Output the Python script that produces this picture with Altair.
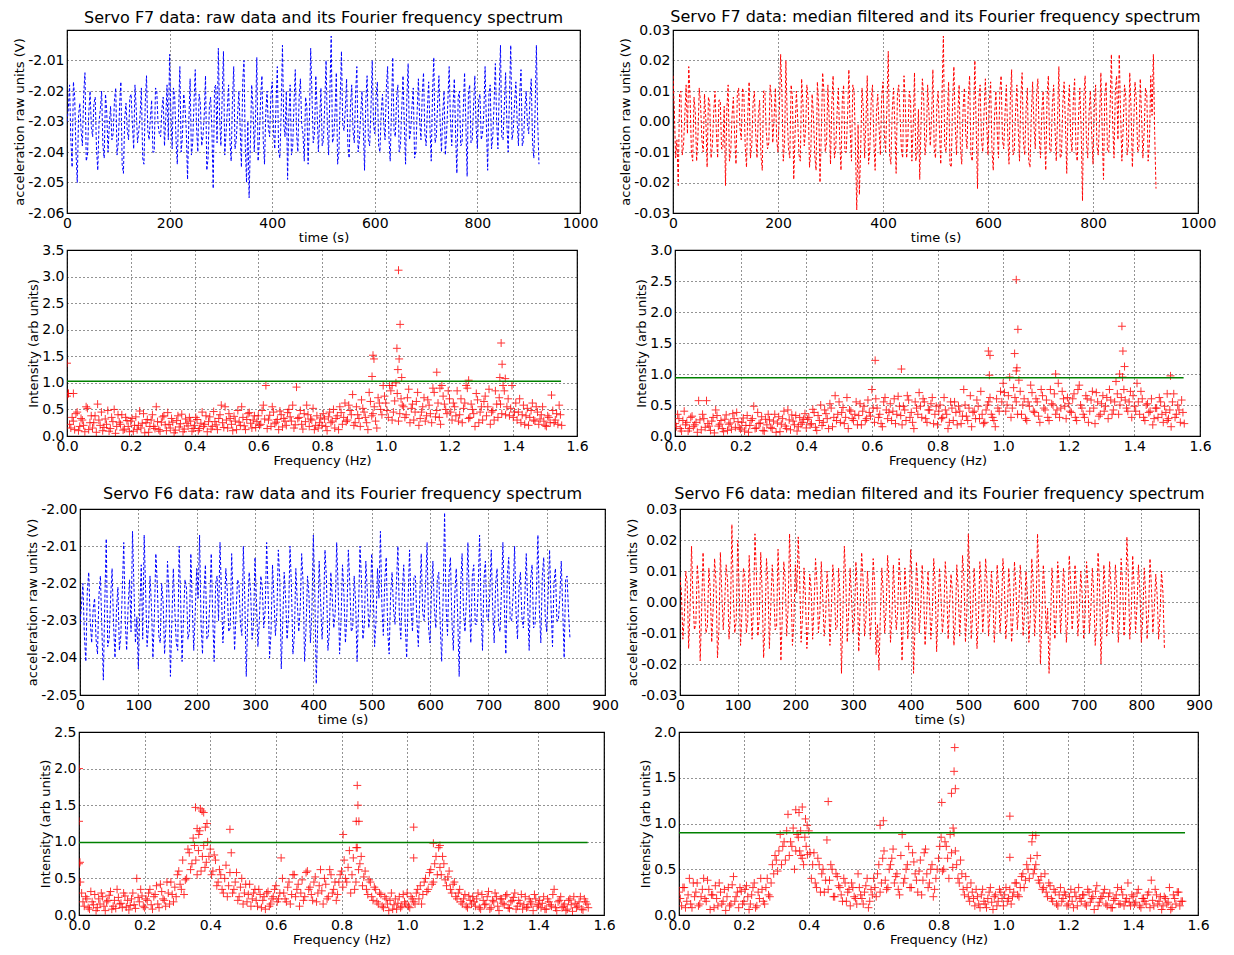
import altair as alt
import pandas as pd

FONT = "DejaVu Sans"

# ---------------- time series: samples on the 5 s grid (a) and the 2.5 s offsets (b) ----------------
ts_step = 5
f7_raw_a = [
    -2.030, -2.018, -2.045, -2.022, -2.050, -2.024, -2.038, -2.014, -2.041, -2.020,
    -2.035, -2.022, -2.046, -2.026, -2.038, -2.021, -2.040, -2.025, -2.034, -2.019,
    -2.037, -2.017, -2.047, -2.024, -2.036, -2.021, -2.039, -2.026, -2.033, -2.019,
    -2.044, -2.015, -2.036, -2.023, -2.040, -2.020, -2.034, -2.026, -2.038, -2.018,
    -2.008, -2.039, -2.022, -2.044, -2.012, -2.035, -2.025, -2.049, -2.016, -2.037,
    -2.013, -2.040, -2.024, -2.035, -2.015, -2.042, -2.022, -2.052, -2.018, -2.006,
    -2.038, -2.007, -2.034, -2.018, -2.043, -2.012, -2.036, -2.020, -2.045, -2.010,
    -2.050, -2.055, -2.018, -2.040, -2.009, -2.036, -2.015, -2.044, -2.020, -2.035,
    -2.017, -2.039, -2.012, -2.042, -2.005, -2.035, -2.049, -2.018, -2.038, -2.013,
    -2.040, -2.016, -2.034, -2.022, -2.044, -2.006, -2.037, -2.015, -2.040, -2.019,
    -2.036, -2.010, -2.041, -2.002, -2.035, -2.014, -2.040, -2.007, -2.033, -2.016,
    -2.042, -2.018, -2.037, -2.012, -2.036, -2.020, -2.046, -2.015, -2.038, -2.010,
    -2.034, -2.017, -2.040, -2.021, -2.036, -2.012, -2.043, -2.009, -2.035, -2.018,
    -2.038, -2.015, -2.044, -2.011, -2.033, -2.019, -2.040, -2.016, -2.036, -2.014,
    -2.038, -2.017, -2.043, -2.009, -2.035, -2.015, -2.040, -2.020, -2.034, -2.012,
    -2.038, -2.016, -2.047, -2.020, -2.037, -2.014, -2.048, -2.018, -2.036, -2.015,
    -2.039, -2.021, -2.034, -2.012, -2.046, -2.018, -2.035, -2.011, -2.039, -2.005,
    -2.036, -2.014, -2.040, -2.005, -2.033, -2.017, -2.038, -2.013, -2.036, -2.020,
    -2.034, -2.016, -2.042, -2.005, -2.044,
]
f7_raw_b = [
    -2.026, -2.036, -2.017, -2.040, -2.028, -2.033, -2.021, -2.043, -2.027, -2.032,
    -2.024, -2.039, -2.030, -2.020, -2.042, -2.027, -2.031, -2.036, -2.023, -2.041,
    -2.025, -2.044, -2.029, -2.033, -2.022, -2.031, -2.018, -2.037, -2.028, -2.042,
    -2.024, -2.033, -2.029, -2.040, -2.019, -2.031, -2.035, -2.022, -2.029, -2.036,
    -2.028, -2.019, -2.036, -2.027, -2.040, -2.021, -2.033, -2.030, -2.041, -2.024,
    -2.032, -2.021, -2.038, -2.028, -2.046, -2.025, -2.033, -2.019, -2.037, -2.029,
    -2.022, -2.041, -2.026, -2.036, -2.023, -2.039, -2.028, -2.032, -2.017, -2.038,
    -2.030, -2.037, -2.025, -2.029, -2.043, -2.022, -2.036, -2.027, -2.032, -2.021,
    -2.033, -2.024, -2.040, -2.027, -2.031, -2.020, -2.028, -2.041, -2.024, -2.034,
    -2.022, -2.031, -2.043, -2.025, -2.030, -2.021, -2.034, -2.026, -2.029, -2.038,
    -2.024, -2.032, -2.020, -2.037, -2.027, -2.044, -2.023, -2.031, -2.026, -2.038,
    -2.025, -2.033, -2.021, -2.040, -2.028, -2.032, -2.023, -2.036, -2.026, -2.031,
    -2.022, -2.038, -2.027, -2.031, -2.019, -2.035, -2.026, -2.033, -2.022, -2.040,
    -2.026, -2.031, -2.022, -2.036, -2.025, -2.042, -2.027, -2.030, -2.021, -2.034,
    -2.026, -2.032, -2.021, -2.037, -2.024, -2.031, -2.027, -2.041, -2.023, -2.030,
    -2.025, -2.034, -2.022, -2.038, -2.026, -2.031, -2.021, -2.037, -2.025, -2.032,
    -2.023, -2.036, -2.027, -2.031, -2.021, -2.039, -2.024, -2.030, -2.020, -2.035,
    -2.025, -2.031, -2.022, -2.036, -2.024, -2.030, -2.021, -2.038, -2.026, -2.031,
    -2.022, -2.037, -2.026, -2.030,
]
f7_med_a = [
    0.015, -0.012, -0.021, 0.010, -0.008, 0.012, 0.018, -0.010, 0.008, -0.013,
    0.011, -0.006, 0.009, -0.015, 0.006, -0.008, 0.010, -0.012, 0.007, -0.009,
    -0.021, 0.012, -0.010, 0.008, -0.014, 0.011, -0.006, 0.009, -0.015, 0.013,
    -0.008, 0.010, -0.012, 0.007, -0.016, 0.010, -0.009, 0.012, -0.007, 0.011,
    -0.010, 0.022, -0.013, 0.020, -0.009, 0.012, -0.019, 0.010, -0.011, 0.014,
    -0.008, 0.012, -0.015, 0.009, -0.011, 0.013, -0.020, 0.016, -0.010, 0.012,
    -0.014, 0.015, -0.009, 0.011, -0.016, 0.012, -0.010, 0.017, -0.013, 0.010,
    -0.029, -0.024, 0.011, -0.012, 0.015, -0.009, 0.012, -0.016, 0.009, -0.011,
    0.013, -0.010, 0.023, -0.014, 0.011, -0.017, 0.012, -0.009, 0.015, -0.012,
    0.010, -0.013, 0.016, -0.010, -0.019, 0.014, -0.011, 0.012, -0.008, 0.017,
    -0.012, 0.010, -0.014, 0.028, -0.010, 0.013, -0.015, 0.018, -0.011, 0.012,
    -0.014, 0.011, -0.009, 0.015, -0.013, 0.020, -0.022, 0.012, -0.010, 0.014,
    -0.011, 0.013, -0.016, 0.010, -0.012, 0.015, -0.009, 0.012, -0.014, 0.017,
    -0.010, 0.012, -0.013, 0.016, -0.011, 0.011, -0.015, 0.013, -0.009, 0.014,
    -0.012, 0.010, -0.016, 0.015, -0.010, 0.012, -0.013, 0.018, -0.011, 0.013,
    -0.017, 0.012, -0.010, 0.014, -0.013, 0.011, -0.026, 0.015, -0.012, 0.010,
    -0.014, 0.012, -0.011, 0.016, -0.019, 0.013, -0.010, 0.022, -0.012, 0.015,
    0.022, -0.013, 0.012, -0.011, 0.016, -0.015, 0.013, -0.010, 0.014, -0.012,
    0.011, -0.013, 0.015, 0.022, -0.022,
]
f7_med_b = [
    0.004, -0.006, 0.009, -0.011, 0.002, -0.004, 0.008, -0.013, 0.003, -0.005,
    0.006, -0.010, 0.001, 0.008, -0.012, 0.003, -0.003, 0.007, -0.009, 0.005,
    0.004, -0.013, 0.002, -0.005, 0.009, -0.002, 0.011, -0.008, 0.003, -0.012,
    0.006, -0.004, 0.002, -0.011, 0.010, -0.003, -0.007, 0.008, 0.001, -0.006,
    0.003, 0.009, -0.007, 0.002, -0.012, 0.008, -0.004, 0.001, -0.013, 0.006,
    -0.003, 0.007, -0.010, 0.002, -0.016, 0.005, -0.004, 0.010, -0.007, 0.001,
    0.006, -0.012, 0.003, -0.006, 0.007, -0.010, 0.002, -0.003, 0.012, -0.008,
    -0.001, -0.009, 0.004, 0.000, -0.014, 0.007, -0.006, 0.003, -0.002, 0.008,
    -0.004, 0.005, -0.011, 0.003, -0.001, 0.009, 0.002, -0.012, 0.006, -0.005,
    0.007, -0.002, -0.013, 0.004, 0.000, 0.008, -0.006, 0.003, 0.001, -0.009,
    0.005, -0.003, 0.009, -0.008, 0.002, -0.014, 0.006, -0.001, 0.003, -0.009,
    0.004, -0.004, 0.008, -0.011, 0.001, -0.002, 0.007, -0.006, 0.003, -0.001,
    0.006, -0.009, 0.002, -0.003, 0.010, -0.006, 0.003, -0.004, 0.007, -0.011,
    0.003, -0.002, 0.008, -0.007, 0.004, -0.013, 0.002, -0.001, 0.009, -0.005,
    0.003, -0.004, 0.008, -0.009, 0.005, -0.002, 0.001, -0.012, 0.006, -0.001,
    0.004, -0.005, 0.007, -0.010, 0.002, -0.003, 0.008, -0.007, 0.003, -0.004,
    0.006, -0.008, 0.001, -0.003, 0.009, -0.010, 0.004, -0.001, 0.010, -0.006,
    0.003, -0.002, 0.008, -0.008, 0.004, -0.001, 0.007, -0.009, 0.002, -0.003,
    0.009, -0.007, 0.002, -0.004,
]
f6_raw_a = [
    -2.031, -2.020, -2.041, -2.017, -2.036, -2.024, -2.039, -2.018, -2.046, -2.008,
    -2.035, -2.016, -2.040, -2.021, -2.034, -2.009, -2.038, -2.019, -2.006, -2.036,
    -2.043, -2.015, -2.007, -2.037, -2.018, -2.040, -2.012, -2.034, -2.020, -2.039,
    -2.014, -2.045, -2.016, -2.036, -2.010, -2.041, -2.019, -2.035, -2.012, -2.038,
    -2.016, -2.007, -2.039, -2.015, -2.034, -2.012, -2.041, -2.018, -2.009, -2.036,
    -2.016, -2.033, -2.012, -2.038, -2.019, -2.031, -2.010, -2.045, -2.017, -2.035,
    -2.013, -2.037, -2.018, -2.032, -2.009, -2.040, -2.015, -2.034, -2.011, -2.043,
    -2.017, -2.035, -2.010, -2.039, -2.016, -2.033, -2.012, -2.041, -2.018, -2.036,
    -2.007, -2.047, -2.014, -2.035, -2.011, -2.038, -2.017, -2.032, -2.009, -2.039,
    -2.015, -2.036, -2.011, -2.033, -2.018, -2.041, -2.010, -2.035, -2.014, -2.032,
    -2.012, -2.037, -2.016, -2.006, -2.034, -2.013, -2.039, -2.017, -2.031, -2.010,
    -2.035, -2.015, -2.040, -2.011, -2.033, -2.018, -2.037, -2.012, -2.030, -2.009,
    -2.036, -2.014, -2.032, -2.017, -2.041, -2.001, -2.034, -2.013, -2.038, -2.016,
    -2.045, -2.012, -2.033, -2.009, -2.036, -2.015, -2.031, -2.007, -2.038, -2.014,
    -2.030, -2.011, -2.036, -2.016, -2.033, -2.009, -2.039, -2.013, -2.030, -2.010,
    -2.035, -2.017, -2.032, -2.012, -2.038, -2.015, -2.031, -2.007, -2.036, -2.013,
    -2.033, -2.011, -2.037, -2.016, -2.030, -2.014, -2.040, -2.018, -2.035,
]
f6_raw_b = [
    -2.026, -2.034, -2.022, -2.030, -2.027, -2.035, -2.023, -2.032, -2.025, -2.037,
    -2.024, -2.031, -2.027, -2.038, -2.022, -2.030, -2.026, -2.033, -2.021, -2.029,
    -2.027, -2.035, -2.022, -2.031, -2.026, -2.029, -2.020, -2.036, -2.025, -2.031,
    -2.023, -2.030, -2.027, -2.038, -2.024, -2.029, -2.021, -2.033, -2.026, -2.028,
    -2.024, -2.031, -2.022, -2.035, -2.025, -2.029, -2.020, -2.030, -2.023, -2.028,
    -2.022, -2.032, -2.025, -2.028, -2.020, -2.034, -2.024, -2.029, -2.022, -2.031,
    -2.025, -2.030, -2.021, -2.027, -2.023, -2.033, -2.024, -2.028, -2.019, -2.031,
    -2.024, -2.029, -2.021, -2.034, -2.025, -2.027, -2.020, -2.032, -2.023, -2.028,
    -2.022, -2.031, -2.025, -2.027, -2.019, -2.033, -2.024, -2.028, -2.021, -2.030,
    -2.023, -2.029, -2.020, -2.032, -2.025, -2.027, -2.019, -2.031, -2.022, -2.028,
    -2.021, -2.030, -2.024, -2.026, -2.019, -2.033, -2.023, -2.027, -2.020, -2.029,
    -2.022, -2.031, -2.024, -2.027, -2.018, -2.030, -2.023, -2.028, -2.020, -2.032,
    -2.022, -2.027, -2.019, -2.031, -2.024, -2.026, -2.018, -2.030, -2.023, -2.029,
    -2.021, -2.028, -2.024, -2.026, -2.018, -2.031, -2.022, -2.027, -2.019, -2.029,
    -2.023, -2.027, -2.020, -2.031, -2.022, -2.026, -2.018, -2.030, -2.023, -2.028,
    -2.021, -2.029, -2.024, -2.026, -2.019, -2.032, -2.022, -2.027, -2.018, -2.029,
    -2.023, -2.026, -2.020, -2.030, -2.024, -2.027, -2.019, -2.028,
]
f6_med_a = [
    0.008, -0.012, 0.010, -0.015, 0.018, -0.009, 0.012, -0.019, 0.016, -0.010,
    0.011, -0.013, 0.014, -0.018, 0.016, -0.009, 0.012, -0.012, 0.025, -0.010,
    0.020, -0.014, 0.011, -0.010, 0.015, -0.012, 0.022, -0.011, 0.016, -0.018,
    0.014, -0.015, 0.012, -0.009, 0.017, -0.019, 0.013, -0.011, 0.022, -0.014,
    0.012, 0.021, -0.013, 0.011, -0.015, 0.009, -0.012, 0.014, -0.010, 0.013,
    -0.011, 0.010, -0.014, 0.012, -0.009, 0.011, -0.023, 0.018, -0.013, 0.011,
    -0.010, 0.013, -0.016, 0.016, -0.011, 0.010, -0.012, 0.014, -0.017, -0.022,
    0.011, -0.010, 0.015, -0.013, 0.012, -0.009, 0.014, -0.019, 0.011, -0.012,
    0.017, -0.023, 0.013, -0.010, 0.012, -0.014, 0.010, -0.012, 0.014, -0.016,
    0.011, -0.010, 0.013, -0.012, 0.009, -0.014, 0.012, -0.011, 0.015, -0.013,
    0.022, -0.012, 0.011, -0.015, 0.013, -0.010, 0.014, -0.011, 0.010, -0.013,
    0.012, -0.010, 0.014, -0.012, 0.011, -0.013, 0.013, -0.009, 0.012, -0.011,
    0.010, -0.013, 0.014, -0.011, 0.022, -0.020, 0.012, -0.010, -0.023, 0.011,
    -0.012, 0.013, -0.010, 0.011, -0.013, 0.015, -0.009, 0.012, -0.011, 0.010,
    -0.012, 0.013, -0.010, 0.011, -0.014, 0.016, -0.020, 0.012, -0.011, 0.013,
    -0.010, 0.012, -0.013, 0.014, -0.011, 0.021, -0.012, 0.015, -0.010, 0.012,
    -0.013, 0.011, -0.012, 0.014, -0.010, 0.009, -0.012, 0.010, -0.015,
]
f6_med_b = [
    0.003, -0.005, 0.006, -0.002, 0.001, -0.007, 0.005, -0.003, 0.002, -0.008,
    0.004, -0.002, 0.006, -0.009, 0.003, 0.000, 0.007, -0.004, 0.002, -0.006,
    0.005, -0.003, 0.008, -0.006, 0.001, -0.002, 0.009, -0.005, 0.003, -0.007,
    0.006, -0.001, 0.004, -0.008, 0.002, -0.004, 0.007, -0.002, 0.005, -0.006,
    0.003, 0.008, -0.005, 0.002, -0.007, 0.004, -0.001, 0.006, -0.004, 0.002,
    -0.005, 0.003, -0.002, 0.006, -0.008, 0.002, -0.004, 0.007, -0.003, 0.001,
    -0.006, 0.004, -0.001, 0.007, -0.005, 0.002, -0.003, 0.006, -0.007, -0.004,
    0.003, -0.002, 0.006, -0.005, 0.001, -0.003, 0.005, -0.006, 0.002, -0.001,
    0.006, -0.008, 0.004, -0.002, 0.003, -0.005, 0.001, -0.004, 0.006, -0.003,
    0.002, -0.004, 0.005, -0.001, 0.003, -0.006, 0.004, -0.002, 0.007, -0.003,
    0.008, -0.004, 0.002, -0.006, 0.005, -0.001, 0.006, -0.003, 0.002, -0.005,
    0.004, -0.002, 0.006, -0.004, 0.003, -0.005, 0.005, -0.001, 0.004, -0.003,
    0.002, -0.005, 0.006, -0.002, 0.008, -0.006, 0.004, -0.002, -0.007, 0.003,
    -0.004, 0.005, -0.001, 0.004, -0.005, 0.006, -0.002, 0.004, -0.003, 0.002,
    -0.004, 0.005, -0.002, 0.003, -0.006, 0.006, -0.005, 0.004, -0.002, 0.005,
    -0.003, 0.004, -0.005, 0.006, -0.002, 0.008, -0.004, 0.005, -0.001, 0.004,
    -0.005, 0.003, -0.004, 0.005, -0.002, 0.002, -0.004, 0.003,
]

# ---------------- spectra: bins every 0.008 Hz (a), the 0.004 Hz offsets (b), and outlying peaks ----------------
f_step = 0.008
f7_raw_sa = [
    0.75, 0.22, 0.35, 0.12, 0.45, 0.18, 0.30, 0.08, 0.52, 0.25, 0.15, 0.38, 0.60, 0.20, 0.10, 0.32, 0.48, 0.14, 0.27, 0.05, 0.40, 0.22, 0.11, 0.35, 0.18,
    0.28, 0.09, 0.36, 0.20, 0.15, 0.42, 0.25, 0.07, 0.30, 0.18, 0.55, 0.12, 0.26, 0.38, 0.10, 0.22, 0.33, 0.06, 0.29, 0.17, 0.41, 0.13, 0.24, 0.35, 0.09,
    0.20, 0.31, 0.14, 0.45, 0.22, 0.08, 0.36, 0.18, 0.27, 0.12, 0.40, 0.25, 0.55, 0.15, 0.33, 0.10, 0.28, 0.48, 0.20, 0.35, 0.12, 0.42, 0.24, 0.30, 0.16,
    0.38, 0.22, 0.58, 0.95, 0.30, 0.18, 0.45, 0.26, 0.12, 0.40, 0.33, 0.20, 0.50, 0.28, 0.15, 0.92, 0.35, 0.22, 0.42, 0.58, 0.18, 0.30, 0.12, 0.38, 0.25,
    0.20, 0.32, 0.10, 0.45, 0.28, 0.15, 0.38, 0.55, 0.22, 0.62, 0.30, 0.48, 0.78, 0.25, 0.40, 0.18, 0.52, 0.35, 0.12, 0.65, 0.42, 0.28, 0.72, 0.50, 0.95,
    0.62, 0.35, 0.85, 0.45, 1.00, 0.28, 0.70, 0.55, 0.40, 0.88, 0.52, 0.30, 0.65, 0.20, 0.45, 0.72, 0.38, 0.58, 0.25, 0.82, 0.48, 0.35, 0.95, 0.60, 0.42,
    0.70, 0.30, 0.55, 0.85, 0.40, 0.25, 0.62, 0.90, 0.35, 0.50, 0.18, 0.68, 0.45, 0.30, 0.75, 0.55, 0.22, 0.48, 0.85, 0.35, 0.60, 0.95, 0.40, 0.70, 0.52,
    0.35, 0.62, 0.45, 0.25, 0.58, 0.38, 0.20, 0.48, 0.30, 0.55, 0.22, 0.40, 0.28, 0.18, 0.35, 0.77, 0.25, 0.42, 0.58, 0.20,
]
f7_raw_sb = [
    0.80, 0.15, 0.28, 0.42, 0.10, 0.33, 0.20, 0.55, 0.12, 0.38, 0.25, 0.07, 0.30, 0.45, 0.16, 0.22, 0.09, 0.35, 0.50, 0.18, 0.26, 0.40, 0.13, 0.29, 0.08,
    0.33, 0.20, 0.12, 0.47, 0.24, 0.06, 0.31, 0.18, 0.40, 0.14, 0.27, 0.09, 0.36, 0.21, 0.44, 0.15, 0.26, 0.11, 0.38, 0.23, 0.08, 0.32, 0.19, 0.28, 0.14,
    0.35, 0.10, 0.24, 0.18, 0.38, 0.27, 0.13, 0.46, 0.21, 0.33, 0.58, 0.16, 0.30, 0.42, 0.22, 0.37, 0.12, 0.26, 0.55, 0.19, 0.31, 0.44, 0.15, 0.38, 0.27,
    0.20, 0.48, 0.32, 0.14, 0.39, 0.55, 0.23, 0.31, 0.47, 0.17, 0.28, 0.44, 0.36, 0.58, 0.21, 0.33, 0.48, 0.13, 0.27, 0.40, 0.32, 0.52, 0.20, 0.15, 0.34,
    0.42, 0.18, 0.36, 0.25, 0.50, 0.33, 0.12, 0.44, 0.35, 0.27, 0.58, 0.40, 0.20, 0.55, 0.33, 0.68, 0.45, 0.25, 0.82, 0.38, 0.55, 0.15, 0.62, 0.40, 0.75,
    0.48, 0.95, 0.30, 0.66, 0.80, 0.42, 0.58, 0.35, 0.72, 0.25, 0.60, 0.45, 0.82, 0.33, 0.55, 0.28, 0.68, 0.42, 0.90, 0.36, 0.62, 0.22, 0.75, 0.50, 0.85,
    0.45, 0.62, 0.38, 0.28, 0.70, 0.52, 0.95, 0.33, 0.60, 0.42, 0.80, 0.25, 0.55, 0.65, 0.38, 0.88, 0.45, 0.30, 0.60, 0.72, 0.42, 0.85, 0.55, 0.38, 0.95,
    0.45, 0.30, 0.70, 0.40, 0.22, 0.52, 0.35, 0.62, 0.28, 0.45, 0.32, 0.55, 0.20, 0.38, 0.25, 0.48, 0.30, 0.22, 0.40,
]
f7_raw_pk_f = [0.0, 0.004, 0.02, 0.96, 0.963, 0.957, 1.035, 1.04, 1.045, 1.042, 1.038, 1.05, 1.16, 1.26, 1.362, 1.365, 1.358, 1.375, 1.02, 1.17]
f7_raw_pk_v = [1.37, 0.80, 0.80, 1.52, 1.45, 1.12, 1.65, 3.12, 2.10, 1.45, 1.25, 1.10, 1.20, 1.05, 1.75, 1.35, 1.10, 1.08, 0.95, 0.90]

f7_med_sa = [
    0.20, 0.35, 0.12, 0.25, 0.18, 0.08, 0.30, 0.15, 0.22, 0.57, 0.10, 0.28, 0.57, 0.16, 0.24, 0.05, 0.33, 0.19, 0.12, 0.27, 0.09, 0.21, 0.36, 0.14, 0.23,
    0.11, 0.29, 0.17, 0.06, 0.25, 0.48, 0.13, 0.20, 0.31, 0.08, 0.18, 0.26, 0.12, 0.35, 0.21, 0.07, 0.28, 0.16, 0.42, 0.10, 0.24, 0.33, 0.15, 0.19, 0.27,
    0.13, 0.30, 0.20, 0.38, 0.09, 0.25, 0.17, 0.42, 0.28, 0.52, 0.15, 0.65, 0.35, 0.22, 0.46, 0.30, 0.12, 0.40, 0.25, 0.55, 0.33, 0.18, 0.48, 0.28, 0.38,
    0.75, 0.22, 0.45, 0.35, 0.15, 0.62, 0.28, 0.52, 0.40, 0.20, 0.64, 0.33, 0.48, 0.25, 0.58, 0.38, 0.12, 0.45, 0.70, 0.30, 0.55, 0.22, 0.42, 0.62, 0.35,
    0.18, 0.50, 0.30, 0.42, 0.12, 0.55, 0.25, 0.38, 0.48, 0.20, 0.75, 0.32, 0.45, 0.15, 0.40, 0.58, 0.28, 0.35, 0.22, 0.50, 0.62, 0.30, 0.15, 0.45, 0.72,
    0.85, 0.40, 0.65, 0.30, 0.78, 0.55, 0.90, 0.35, 0.60, 0.25, 0.48, 0.70, 0.38, 0.55, 0.22, 0.65, 0.42, 0.30, 0.75, 0.50, 0.35, 0.85, 0.45, 0.60, 0.28,
    0.52, 0.38, 0.68, 0.25, 0.82, 0.45, 0.30, 0.60, 0.40, 0.72, 0.20, 0.55, 0.35, 0.65, 0.48, 0.28, 0.58, 0.42, 0.88, 0.35, 0.62, 0.75, 0.45, 0.55, 0.30,
    0.48, 0.85, 0.35, 0.60, 0.25, 0.52, 0.40, 0.18, 0.45, 0.30, 0.55, 0.22, 0.38, 0.28, 0.15, 0.68, 0.35, 0.42, 0.58, 0.20,
]
f7_med_sb = [
    0.15, 0.28, 0.08, 0.40, 0.22, 0.12, 0.32, 0.18, 0.06, 0.26, 0.35, 0.14, 0.20, 0.09, 0.30, 0.42, 0.16, 0.25, 0.07, 0.34, 0.19, 0.11, 0.28, 0.38, 0.13,
    0.22, 0.08, 0.33, 0.17, 0.28, 0.12, 0.38, 0.21, 0.09, 0.27, 0.35, 0.14, 0.24, 0.06, 0.31, 0.19, 0.40, 0.12, 0.26, 0.34, 0.18, 0.08, 0.30, 0.22, 0.36,
    0.27, 0.18, 0.43, 0.14, 0.33, 0.50, 0.22, 0.36, 0.12, 0.45, 0.30, 0.25, 0.55, 0.38, 0.20, 0.62, 0.42, 0.28, 0.35, 0.18, 0.52, 0.40, 0.25, 0.58, 0.32,
    0.45, 0.60, 0.30, 0.20, 0.55, 0.42, 0.38, 0.25, 0.60, 0.35, 0.48, 0.18, 0.42, 0.65, 0.30, 0.22, 0.55, 0.35, 0.48, 0.60, 0.28, 0.42, 0.52, 0.20, 0.48,
    0.40, 0.28, 0.62, 0.35, 0.22, 0.45, 0.55, 0.18, 0.40, 0.32, 0.50, 0.25, 0.65, 0.38, 0.28, 0.48, 0.72, 0.20, 0.42, 0.55, 0.35, 0.25, 0.60, 0.40, 0.55,
    0.70, 0.50, 0.95, 0.45, 0.62, 0.35, 0.72, 0.50, 0.28, 0.55, 0.82, 0.40, 0.60, 0.32, 0.75, 0.45, 0.58, 0.25, 0.52, 0.68, 0.42, 0.30, 0.72, 0.48, 0.62,
    0.40, 0.60, 0.30, 0.75, 0.50, 0.35, 0.65, 0.22, 0.58, 0.45, 0.70, 0.32, 0.52, 0.40, 0.62, 0.75, 0.35, 0.55, 0.68, 0.50, 0.95, 0.58, 0.40, 0.72, 0.65,
    0.40, 0.55, 0.72, 0.30, 0.50, 0.38, 0.60, 0.28, 0.45, 0.62, 0.35, 0.48, 0.25, 0.42, 0.55, 0.30, 0.50, 0.22, 0.38,
]
f7_med_pk_f = [0.61, 0.69, 0.955, 0.96, 0.958, 1.035, 1.04, 1.045, 1.04, 1.042, 1.362, 1.365, 1.37, 1.355, 1.51, 1.16, 1.50]
f7_med_pk_v = [1.22, 1.08, 1.37, 1.30, 0.98, 1.33, 2.52, 1.72, 1.05, 1.10, 1.77, 1.37, 1.12, 1.00, 0.97, 1.00, 0.68]

f6_raw_sa = [
    0.70, 0.30, 0.12, 0.22, 0.08, 0.18, 0.28, 0.10, 0.15, 0.25, 0.06, 0.20, 0.32, 0.12, 0.09, 0.24, 0.16, 0.30, 0.11, 0.07, 0.22, 0.14, 0.50, 0.18, 0.26,
    0.10, 0.20, 0.35, 0.08, 0.28, 0.15, 0.42, 0.22, 0.12, 0.30, 0.45, 0.18, 0.25, 0.60, 0.35, 0.28, 0.50, 0.85, 0.70, 0.95, 0.55, 1.15, 0.80, 0.65, 1.00,
    0.90, 0.60, 0.75, 0.45, 0.55, 0.30, 0.68, 0.40, 0.85, 0.35, 0.58, 0.25, 0.50, 0.30, 0.18, 0.42, 0.22, 0.35, 0.12, 0.28, 0.20, 0.08, 0.32, 0.15, 0.25,
    0.40, 0.22, 0.78, 0.30, 0.18, 0.45, 0.28, 0.55, 0.35, 0.12, 0.48, 0.25, 0.60, 0.38, 0.20, 0.52, 0.30, 0.62, 0.15, 0.42, 0.25, 0.55, 0.35, 0.20, 0.45,
    0.60, 0.75, 0.45, 0.88, 0.55, 0.35, 0.92, 0.70, 0.40, 0.60, 0.28, 0.45, 0.20, 0.35, 0.15, 0.28, 0.10, 0.22, 0.06, 0.30, 0.14, 0.08, 0.25, 0.12, 0.18,
    0.30, 0.10, 0.22, 0.15, 0.35, 0.40, 0.28, 0.50, 0.35, 0.62, 0.45, 0.80, 0.92, 0.55, 0.70, 0.40, 0.60, 0.30, 0.45, 0.22, 0.35, 0.15, 0.28, 0.10, 0.20,
    0.25, 0.12, 0.30, 0.08, 0.20, 0.15, 0.32, 0.10, 0.18, 0.25, 0.06, 0.22, 0.14, 0.28, 0.09, 0.20, 0.30, 0.12, 0.16, 0.08, 0.25, 0.11, 0.18, 0.06, 0.22,
    0.14, 0.10, 0.25, 0.08, 0.18, 0.12, 0.35, 0.06, 0.20, 0.10, 0.15, 0.08, 0.22, 0.05, 0.16, 0.12, 0.25, 0.07, 0.18, 0.10,
]
f6_raw_sb = [
    0.45, 0.18, 0.25, 0.10, 0.32, 0.14, 0.06, 0.22, 0.30, 0.12, 0.18, 0.27, 0.08, 0.20, 0.35, 0.15, 0.10, 0.26, 0.20, 0.13, 0.30, 0.09, 0.24, 0.35, 0.12,
    0.22, 0.30, 0.14, 0.25, 0.40, 0.10, 0.32, 0.20, 0.45, 0.15, 0.28, 0.38, 0.55, 0.42, 0.75, 0.48, 0.90, 0.62, 1.05, 0.75, 0.88, 0.60, 0.95, 0.72, 0.80,
    0.55, 0.82, 0.40, 0.62, 0.35, 0.50, 0.25, 0.58, 0.30, 0.45, 0.20, 0.38, 0.15, 0.42, 0.28, 0.12, 0.30, 0.20, 0.35, 0.10, 0.25, 0.30, 0.12, 0.22, 0.35,
    0.18, 0.30, 0.50, 0.22, 0.38, 0.15, 0.55, 0.25, 0.42, 0.30, 0.20, 0.58, 0.35, 0.28, 0.45, 0.18, 0.40, 0.33, 0.50, 0.22, 0.62, 0.30, 0.45, 0.28, 0.55,
    0.38, 0.50, 0.65, 0.30, 0.78, 0.45, 0.62, 0.80, 0.52, 0.35, 0.48, 0.25, 0.38, 0.18, 0.30, 0.12, 0.25, 0.15, 0.20, 0.08, 0.22, 0.16, 0.10, 0.28, 0.15,
    0.12, 0.25, 0.18, 0.30, 0.22, 0.15, 0.45, 0.32, 0.58, 0.42, 0.70, 0.55, 0.65, 0.80, 0.48, 0.52, 0.35, 0.42, 0.25, 0.30, 0.18, 0.22, 0.12, 0.26, 0.15,
    0.18, 0.22, 0.10, 0.28, 0.14, 0.25, 0.08, 0.20, 0.30, 0.12, 0.22, 0.16, 0.26, 0.10, 0.18, 0.24, 0.08, 0.20, 0.28, 0.14, 0.10, 0.22, 0.15, 0.28, 0.12,
    0.20, 0.16, 0.08, 0.22, 0.14, 0.28, 0.10, 0.18, 0.25, 0.12, 0.06, 0.20, 0.14, 0.25, 0.10, 0.18, 0.08, 0.22, 0.15,
]
f6_raw_pk_f = [0.0, 0.0, 0.003, 0.355, 0.37, 0.375, 0.38, 0.39, 0.36, 0.365, 0.385, 0.46, 0.805, 0.848, 0.85, 0.845, 0.853, 0.845, 1.02, 1.02, 1.08, 1.10]
f6_raw_pk_v = [2.00, 1.28, 0.72, 1.47, 1.45, 1.42, 1.40, 1.25, 1.18, 1.10, 1.20, 1.17, 1.10, 1.77, 1.50, 1.28, 1.28, 0.92, 1.20, 0.78, 0.98, 0.95]

f6_med_sa = [
    0.25, 0.10, 0.30, 0.15, 0.40, 0.08, 0.20, 0.35, 0.12, 0.28, 0.18, 0.38, 0.06, 0.22, 0.32, 0.10, 0.25, 0.15, 0.05, 0.30, 0.12, 0.42, 0.20, 0.08, 0.26,
    0.15, 0.32, 0.06, 0.22, 0.35, 0.10, 0.18, 0.28, 0.12, 0.40, 0.20, 0.55, 0.65, 0.48, 0.88, 0.75, 0.60, 1.10, 0.80, 0.95, 0.70, 0.85, 0.65, 0.55, 0.75,
    0.92, 0.40, 0.68, 0.30, 0.55, 0.45, 0.25, 0.82, 0.38, 0.50, 0.20, 0.42, 0.30, 0.15, 0.35, 0.25, 0.10, 0.30, 0.18, 0.45, 0.22, 0.12, 0.32, 0.08, 0.28,
    0.40, 0.20, 0.55, 0.35, 0.70, 0.28, 0.50, 0.62, 0.35, 0.45, 0.22, 0.88, 0.40, 0.55, 0.30, 0.68, 0.45, 0.25, 0.60, 0.38, 0.72, 0.30, 0.50, 0.20, 0.40,
    0.62, 0.85, 0.50, 0.75, 0.40, 0.68, 0.90, 0.55, 0.35, 0.45, 0.22, 0.30, 0.15, 0.25, 0.10, 0.20, 0.08, 0.28, 0.12, 0.18, 0.30, 0.06, 0.22, 0.15, 0.25,
    0.10, 0.30, 0.18, 0.12, 0.25, 0.35, 0.20, 0.42, 0.30, 0.55, 0.40, 0.80, 0.50, 0.65, 0.35, 0.28, 0.45, 0.20, 0.32, 0.15, 0.25, 0.10, 0.30, 0.18, 0.22,
    0.12, 0.28, 0.08, 0.20, 0.30, 0.15, 0.22, 0.10, 0.25, 0.18, 0.06, 0.32, 0.14, 0.20, 0.28, 0.10, 0.24, 0.08, 0.18, 0.30, 0.12, 0.22, 0.15, 0.35, 0.10,
    0.20, 0.14, 0.28, 0.08, 0.18, 0.12, 0.25, 0.38, 0.10, 0.22, 0.15, 0.06, 0.20, 0.12, 0.30, 0.08, 0.18, 0.25, 0.10, 0.15,
]
f6_med_sb = [
    0.18, 0.30, 0.08, 0.22, 0.12, 0.35, 0.25, 0.10, 0.20, 0.40, 0.15, 0.28, 0.22, 0.08, 0.18, 0.35, 0.12, 0.28, 0.20, 0.10, 0.33, 0.15, 0.25, 0.30, 0.12,
    0.28, 0.20, 0.12, 0.30, 0.08, 0.25, 0.40, 0.15, 0.30, 0.22, 0.35, 0.45, 0.60, 0.70, 0.55, 0.80, 0.92, 0.65, 0.75, 0.50, 0.88, 0.70, 0.62, 0.85, 0.66,
    0.68, 0.55, 0.35, 0.62, 0.25, 0.50, 0.38, 0.28, 0.55, 0.20, 0.45, 0.32, 0.22, 0.40, 0.15, 0.28, 0.35, 0.20, 0.12, 0.30, 0.18, 0.25, 0.40, 0.15, 0.22,
    0.30, 0.45, 0.25, 0.62, 0.38, 0.30, 0.55, 0.72, 0.42, 0.28, 0.65, 0.35, 0.50, 0.75, 0.30, 0.58, 0.38, 0.48, 0.22, 0.68, 0.45, 0.35, 0.55, 0.28, 0.50,
    0.75, 0.48, 0.80, 0.62, 0.88, 0.52, 0.70, 0.40, 0.60, 0.28, 0.42, 0.20, 0.35, 0.18, 0.28, 0.12, 0.22, 0.15, 0.08, 0.25, 0.14, 0.20, 0.10, 0.28, 0.18,
    0.22, 0.15, 0.28, 0.20, 0.35, 0.22, 0.30, 0.45, 0.38, 0.50, 0.62, 0.45, 0.55, 0.38, 0.42, 0.30, 0.25, 0.35, 0.18, 0.28, 0.12, 0.22, 0.15, 0.25, 0.10,
    0.20, 0.15, 0.25, 0.10, 0.18, 0.22, 0.12, 0.28, 0.14, 0.20, 0.26, 0.10, 0.18, 0.24, 0.12, 0.20, 0.08, 0.16, 0.22, 0.12, 0.28, 0.10, 0.18, 0.14, 0.22,
    0.12, 0.24, 0.10, 0.18, 0.15, 0.22, 0.08, 0.16, 0.28, 0.12, 0.20, 0.10, 0.18, 0.14, 0.06, 0.22, 0.12, 0.25, 0.15,
]
f6_med_pk_f = [0.36, 0.37, 0.38, 0.39, 0.395, 0.375, 0.46, 0.63, 0.62, 0.81, 0.84, 0.85, 0.848, 0.852, 0.845, 1.02, 1.02, 1.09, 1.10]
f6_med_pk_v = [1.15, 1.12, 1.18, 1.05, 0.98, 0.92, 1.24, 1.03, 0.98, 1.23, 1.33, 1.83, 1.57, 1.38, 0.95, 1.08, 0.63, 0.87, 0.87]

# threshold (green) lines
thresholds = {"f7_raw": 1.03, "f7_med": 0.94, "f6_raw": 0.99, "f6_med": 0.90}
thr_end = {"f7_raw": 1.55, "f7_med": 1.55, "f6_raw": 1.55, "f6_med": 1.56}

titles = {
    "f7_raw": "Servo F7 data: raw data and its Fourier frequency spectrum",
    "f7_med": "Servo F7 data: median filtered and its Fourier frequency spectrum",
    "f6_raw": "Servo F6 data: raw data and its Fourier frequency spectrum",
    "f6_med": "Servo F6 data: median filtered and its Fourier frequency spectrum",
}

MINUS_FIX = "replace(format(datum.value, '.2f'), '\u2212', '-')"


def ts_chart(va, vb, color, xmax, xstep, ydom, yticks, title, w, h, toff):
    t = [i * ts_step for i in range(len(va))] + [i * ts_step + ts_step / 2 for i in range(len(vb))]
    df = pd.DataFrame({"t": t, "v": va + vb}).sort_values("t")
    return (
        alt.Chart(df, title=alt.TitleParams(title, fontSize=16, font=FONT, fontWeight="normal",
                                            anchor="middle", offset=toff, color="black"))
        .mark_line(color=color, strokeWidth=1, strokeDash=[3, 2], clip=True)
        .encode(
            x=alt.X("t:Q", scale=alt.Scale(domain=[0, xmax], nice=False),
                    axis=alt.Axis(values=list(range(0, xmax + 1, xstep)), format="d", title="time (s)")),
            y=alt.Y("v:Q", scale=alt.Scale(domain=ydom, nice=False, zero=False),
                    axis=alt.Axis(values=yticks, title="acceleration raw units (V)", labelExpr=MINUS_FIX)),
        )
        .properties(width=w, height=h)
    )


def spec_chart(va, vb, pk_f, pk_v, key, ymax, w, h, extra_gap=False):
    freqs = ([round(i * f_step, 4) for i in range(len(va))]
             + [round(f_step / 2 + i * f_step, 4) for i in range(len(vb))] + pk_f)
    df = pd.DataFrame({"f": freqs, "v": va + vb + pk_v})
    yt = [round(i * 0.5, 1) for i in range(int(ymax * 2) + 1)]
    if extra_gap:
        xaxis = alt.Axis(values=[0, 0.2, 0.4, 0.6, 0.8, 1.0, 1.2, 1.4, 1.6], format=".1f",
                         title=["Frequency (Hz)", " "], titleLineHeight=20)
    else:
        xaxis = alt.Axis(values=[0, 0.2, 0.4, 0.6, 0.8, 1.0, 1.2, 1.4, 1.6], format=".1f",
                         title="Frequency (Hz)")
    x = alt.X("f:Q", scale=alt.Scale(domain=[0, 1.6], nice=False), axis=xaxis)
    y = alt.Y("v:Q", scale=alt.Scale(domain=[0, ymax], nice=False),
              axis=alt.Axis(values=yt, format=".1f", title="Intensity (arb units)"))
    pts = alt.Chart(df).mark_point(
        shape="M-1,0L1,0M0,-1L0,1", size=64, filled=False, stroke="#ff0000",
        strokeWidth=1, opacity=0.8, clip=True,
    ).encode(x=x, y=y)
    rdf = pd.DataFrame({"f": [0.0], "f2": [thr_end[key]], "v": [thresholds[key]]})
    rule = alt.Chart(rdf).mark_rule(color="#008000", strokeWidth=1.5).encode(
        x=x, x2="f2:Q", y=y)
    return alt.layer(pts, rule).properties(width=w, height=h)


def spacer():
    return alt.Chart(pd.DataFrame({"a": [0]})).mark_point(opacity=0, size=1).encode(
        x=alt.value(0), y=alt.value(0)
    ).properties(width=1, height=1, view=alt.ViewBackground(strokeOpacity=0))


ts_ticks_f7raw = [-2.06, -2.05, -2.04, -2.03, -2.02, -2.01]
ts_ticks_f6raw = [-2.05, -2.04, -2.03, -2.02, -2.01, -2.00]
ts_ticks_med = [-0.03, -0.02, -0.01, 0.0, 0.01, 0.02, 0.03]

rowA = alt.hconcat(
    ts_chart(f7_raw_a, f7_raw_b, "#0000ff", 1000, 200, [-2.06, -2.00], ts_ticks_f7raw, titles["f7_raw"], 513, 183, 4),
    ts_chart(f7_med_a, f7_med_b, "#ff0000", 1000, 200, [-0.03, 0.03], ts_ticks_med, titles["f7_med"], 525, 183, -2),
    spacing=20,
)
rowB = alt.hconcat(
    spec_chart(f7_raw_sa, f7_raw_sb, f7_raw_pk_f, f7_raw_pk_v, "f7_raw", 3.5, 510, 186, True),
    spec_chart(f7_med_sa, f7_med_sb, f7_med_pk_f, f7_med_pk_v, "f7_med", 3.0, 525, 186, True),
    spacing=46,
)
rowC = alt.hconcat(
    spacer(),
    alt.hconcat(
        ts_chart(f6_raw_a, f6_raw_b, "#0000ff", 900, 100, [-2.05, -2.00], ts_ticks_f6raw, titles["f6_raw"], 525, 186, 0),
        ts_chart(f6_med_a, f6_med_b, "#ff0000", 900, 100, [-0.03, 0.03], ts_ticks_med, titles["f6_med"], 519, 186, 0),
        spacing=7,
    ),
    spacing=-42,
)
rowD = alt.hconcat(
    spacer(),
    alt.hconcat(
        spec_chart(f6_raw_sa, f6_raw_sb, f6_raw_pk_f, f6_raw_pk_v, "f6_raw", 2.5, 525, 183),
        spec_chart(f6_med_sa, f6_med_sb, f6_med_pk_f, f6_med_pk_v, "f6_med", 2.0, 519, 183),
        spacing=23,
    ),
    spacing=-29,
)

chart = alt.vconcat(rowA, rowB, rowC, rowD, spacing=-3).properties(
    padding={"left": 5, "top": 0, "right": 5, "bottom": 0}
).configure_axis(
    labelFont=FONT, titleFont=FONT, labelFontSize=14, titleFontSize=13,
    titleFontWeight="normal", labelColor="black", titleColor="black",
    grid=True, gridColor="black", gridDash=[1, 3], gridOpacity=0.85, gridWidth=1,
    domain=False, ticks=False, labelPadding=3, titlePadding=1, labelFlush=False,
    labelOverlap=False,
).configure_view(stroke="black", strokeWidth=1.2)

chart.save("out.html", embed_options={"renderer": "svg", "actions": False})
